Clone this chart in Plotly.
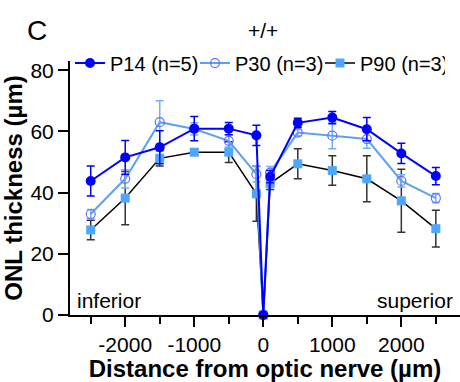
import plotly.graph_objects as go

# ---- data ----
distance = [-2500, -2000, -1500, -1000, -500, -100, 0, 100, 500, 1000, 1500, 2000, 2500]

p14_mean = [43.8, 51.5, 54.8, 60.9, 60.9, 58.7, 0, 45.2, 62.8, 64.5, 60.7, 52.8, 45.4]
p14_err = [4.9, 5.5, 5.4, 4.0, 2.0, 3.3, 0, 2.0, 1.5, 2.0, 3.8, 3.3, 2.8]

p30_mean = [33.0, 44.5, 63.0, 60.8, 56.9, 46.0, 0, 46.5, 59.6, 58.6, 57.5, 43.8, 38.2]
p30_err = [1.5, 3.0, 7.0, 2.0, 2.0, 2.5, 0, 2.0, 1.0, 4.3, 3.0, 2.0, 1.5]

p90_mean = [27.8, 38.2, 51.2, 53.2, 53.2, 39.6, 0, 43.0, 49.4, 47.2, 44.5, 37.3, 28.2]
p90_err = [3.2, 8.7, 2.5, 1.0, 3.4, 9.0, 0, 2.0, 4.9, 4.8, 7.5, 10.3, 6.0]

names = ["P14 (n=5)", "P30 (n=3)", "P90 (n=3)"]
x_ticks = [-2000, -1000, 0, 1000, 2000]
y_ticks = [0, 20, 40, 60, 80]

FONT = "Liberation Sans, Arial, sans-serif"

fig = go.Figure()

fig.add_trace(go.Scatter(
    x=distance, y=p90_mean, name=names[2], mode="lines+markers",
    line=dict(color="#000000", width=1.5),
    marker=dict(symbol="square", size=9, color="#4da6ff"),
    error_y=dict(type="data", array=p90_err, visible=True, color="#333333", thickness=1.5, width=4),
    cliponaxis=False,
))
fig.add_trace(go.Scatter(
    x=distance, y=p30_mean, name=names[1], mode="lines+markers",
    line=dict(color="#5ba3f0", width=2),
    marker=dict(symbol="circle-open", size=9, color="#6a6aff", line=dict(width=1.2, color="#6a6aff")),
    error_y=dict(type="data", array=p30_err, visible=True, color="#6fb0ff", thickness=1.5, width=4),
    cliponaxis=False,
))
fig.add_trace(go.Scatter(
    x=distance, y=p14_mean, name=names[0], mode="lines+markers",
    line=dict(color="#0000ff", width=2),
    marker=dict(symbol="circle", size=10, color="#0000ff"),
    error_y=dict(type="data", array=p14_err, visible=True, color="#0000ff", thickness=1.5, width=4),
    cliponaxis=False,
))

fig.update_layout(
    width=460, height=382,
    margin=dict(l=70, r=0, t=61, b=67),
    paper_bgcolor="white", plot_bgcolor="white",
    font=dict(family=FONT, size=21, color="black"),
    showlegend=True,
    legend=dict(
        orientation="h", x=0.0, xanchor="left", y=0.992, yanchor="middle",
        traceorder="reversed", font=dict(size=20), entrywidth=80,
        bgcolor="rgba(0,0,0,0)", itemwidth=30,
    ),
    xaxis=dict(
        range=[-2800, 2850], tickvals=x_ticks, ticktext=[str(v) for v in x_ticks],
        showline=True, linecolor="black", linewidth=2,
        ticks="outside", ticklen=10, tickwidth=2, tickcolor="black",
        minor=dict(dtick=500, tick0=0, ticks="outside", ticklen=7, tickwidth=2, tickcolor="black"),
        showgrid=False, zeroline=False,
        tickfont=dict(size=21),
        title=dict(text="<b>Distance from optic nerve (µm)</b>", font=dict(size=24), standoff=4),
    ),
    yaxis=dict(
        range=[0, 83], tickvals=y_ticks,
        showline=True, linecolor="black", linewidth=2,
        ticks="outside", ticklen=10, tickwidth=2, tickcolor="black",
        showgrid=False, zeroline=False,
        tickfont=dict(size=21),
        title=dict(text="<b>ONL thickness (µm)</b>", font=dict(size=24), standoff=4),
    ),
    annotations=[
        dict(text="C", x=-0.085, y=1.122, xref="paper", yref="paper", showarrow=False,
             font=dict(size=28), xanchor="center", yanchor="middle"),
        dict(text="+/+", x=0.495, y=1.122, xref="paper", yref="paper", showarrow=False,
             font=dict(size=21), xanchor="center", yanchor="middle"),
        dict(text="inferior", x=0.013, y=0.059, xref="paper", yref="paper", showarrow=False,
             font=dict(size=21), xanchor="left", yanchor="middle"),
        dict(text="superior", x=0.987, y=0.059, xref="paper", yref="paper", showarrow=False,
             font=dict(size=21), xanchor="right", yanchor="middle"),
    ],
)

fig.write_html("out.html")
